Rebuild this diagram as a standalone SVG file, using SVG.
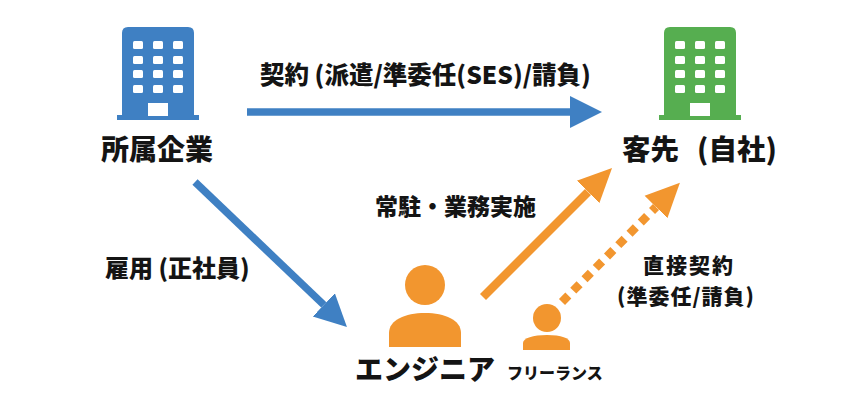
<svg xmlns="http://www.w3.org/2000/svg" width="866" height="403" viewBox="0 0 866 403">
<style>
text{font-family:"Noto Sans CJK JP","Noto Sans",sans-serif;font-weight:900;fill:#141414}
.win{fill:#fff}
.blue{fill:#3f80c3}
.green{fill:#56ae50}
.orange{fill:#f2962f}
.lb{stroke:#3f80c3;stroke-width:7.5;fill:none}
.lo{stroke:#f2962f;stroke-width:8.5;fill:none}
.dot{stroke-dasharray:9 7}
</style>
<defs>
<g id="bldg">
<path d="M-36,120 V33 Q-36,27 -30,27 H30 Q36,27 36,33 V120 Z"/>
<rect x="-41" y="115" width="82" height="5"/>
<g class="win">
<rect x="-25" y="41" width="10" height="8" rx="1.5"/><rect x="-5" y="41" width="10" height="8" rx="1.5"/><rect x="15" y="41" width="10" height="8" rx="1.5"/>
<rect x="-25" y="56" width="10" height="8" rx="1.5"/><rect x="-5" y="56" width="10" height="8" rx="1.5"/><rect x="15" y="56" width="10" height="8" rx="1.5"/>
<rect x="-25" y="70" width="10" height="8" rx="1.5"/><rect x="-5" y="70" width="10" height="8" rx="1.5"/><rect x="15" y="70" width="10" height="8" rx="1.5"/>
<rect x="-25" y="85" width="10" height="8" rx="1.5"/><rect x="-5" y="85" width="10" height="8" rx="1.5"/><rect x="15" y="85" width="10" height="8" rx="1.5"/>
<rect x="-10" y="103" width="20" height="13"/>
</g>
</g>
<marker id="hb" markerUnits="userSpaceOnUse" viewBox="0 -18 36 36" refX="0" refY="0" markerWidth="36" markerHeight="36" orient="auto">
<path d="M0,-16 L32,0 L0,16 Z" fill="#3f80c3"/>
</marker>
<marker id="ho" markerUnits="userSpaceOnUse" viewBox="0 -18 36 36" refX="0" refY="0" markerWidth="36" markerHeight="36" orient="auto">
<path d="M0,-16 L34,0 L0,16 Z" fill="#f2962f"/>
</marker>
</defs>

<g id="connectors">
<line class="lb" x1="247" y1="112" x2="570" y2="112" marker-end="url(#hb)"/>
<line class="lb" x1="195" y1="182" x2="323.8" y2="304.9" marker-end="url(#hb)"/>
<line class="lo" x1="483" y1="297" x2="588" y2="192" marker-end="url(#ho)"/>
<line class="lo dot" x1="562" y1="302" x2="656" y2="207" marker-end="url(#ho)"/>
</g>

<g id="label-contract">
<text x="260" y="84" font-size="24.5">契約 (派遣/準委任(SES)/請負)</text>
</g>
<g id="label-employ">
<text x="105" y="277" font-size="24">雇用 (正社員)</text>
</g>
<g id="label-onsite">
<text x="375" y="215" font-size="23">常駐・業務実施</text>
</g>
<g id="label-direct">
<text x="689" y="273" font-size="21" letter-spacing="2" text-anchor="middle">直接契約</text>
<text x="686" y="304" font-size="21" letter-spacing="1" text-anchor="middle">(準委任/請負)</text>
</g>

<g id="node-company">
<use href="#bldg" x="158" y="0" class="blue"/>
<text x="157" y="160" font-size="28" text-anchor="middle">所属企業</text>
</g>

<g id="node-client">
<use href="#bldg" x="700" y="0" class="green"/>
<text x="622" y="160" font-size="28.5">客先<tspan x="697">(自社)</tspan></text>
</g>

<g id="node-engineer">
<circle cx="425" cy="285" r="20" class="orange"/>
<path class="orange" d="M389,347 V333 C389,320 405,313 425,313 C445,313 461,320 461,333 V347 Z"/>
<text x="355" y="380" font-size="28">エンジニア</text>
</g>

<g id="node-freelance">
<circle cx="547" cy="318" r="14" class="orange"/>
<path class="orange" d="M523,350 V343 C523,338 533,335 547,335 C561,335 570,338 570,343 V350 Z"/>
<text x="507" y="379" font-size="16">フリーランス</text>
</g>
</svg>
